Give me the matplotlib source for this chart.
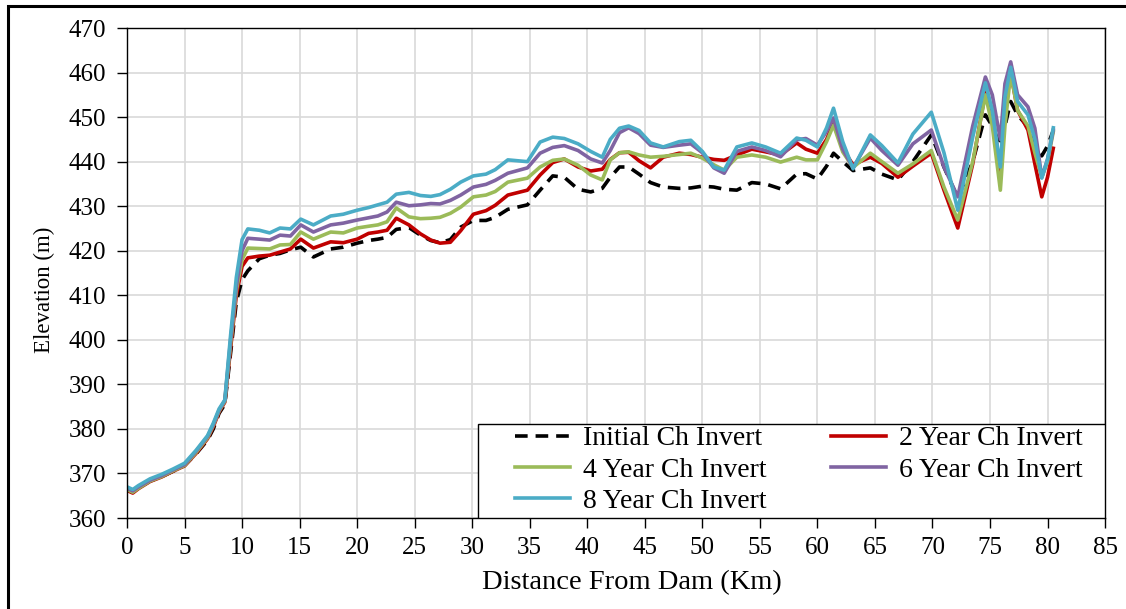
import matplotlib.pyplot as plt
from matplotlib.patches import Rectangle

plt.rcParams['font.family'] = ['Liberation Serif', 'DejaVu Serif']

# distance from dam (km)
dist = [0, 0.5, 1, 2, 3, 4, 5, 6, 7, 7.5, 8, 8.5, 9, 9.5, 10, 10.5, 11.5, 12.4, 13.3, 14.2,
        15.1, 16.2, 17.7, 18.8, 20, 21, 21.8, 22.6, 23.4, 24.5, 25.5, 26.4, 27.2, 28.1, 29,
        30.1, 31.2, 32, 33.1, 34.8, 35.9, 37, 38, 39.2, 40.3, 41.3, 42, 42.8, 43.6, 44.5,
        45.5, 46.6, 48, 49, 50, 51, 51.9, 53, 54.3, 55.5, 56.8, 58.2, 59, 60, 60.8, 61.4,
        62.2, 63.1, 64.6, 65.6, 67, 68.3, 69.9, 71, 72.2, 73.5, 74.6, 75.2, 75.9, 76.3,
        76.8, 77.4, 78.3, 78.9, 79.5, 80.0, 80.5]

initial = [366.6, 365.9, 366.8, 368.3, 369.3, 370.5, 371.8, 374.4, 377.5, 380.0, 383.5, 385.5,
           397, 408.5, 413.5, 415.5, 418.2, 419, 419.4, 420.2, 420.8, 418.6, 420.4, 420.8,
           421.7, 422.3, 422.6, 423, 424.8, 425.2, 423.5, 422.3, 421.8, 422.5, 425.3, 426.8,
           426.8, 427.5, 429.3, 430.3, 433.6, 436.8, 436.5, 433.8, 433.2, 434, 436.5, 438.8,
           438.8, 437.2, 435.3, 434.3, 434, 434.1, 434.5, 434.3, 433.8, 433.6, 435.3, 435,
           433.9, 437.2, 437.3, 436.1, 439, 441.9, 440, 438, 438.6, 437.2, 435.9, 440, 446,
           438.8, 431.8, 440, 450.5, 448, 443.5, 448, 453.5, 450.5, 447.8, 444, 441.3,
           443.5, 447]

yr2 = [366.2, 365.6, 366.6, 368.2, 369.2, 370.5, 371.7, 374.5, 377.8, 380.5, 383.8, 386,
       398, 410, 416.5, 418.4, 418.8, 419, 419.7, 420.4, 422.6, 420.6, 422.0, 421.8, 422.6,
       423.9, 424.2, 424.6, 427.3, 425.8, 423.8, 422.4, 421.7, 421.9, 424.5, 428.2, 429,
       430.2, 432.5, 433.6, 437, 439.8, 440.6, 438.8, 437.9, 438.3, 440.5, 442, 442.1,
       440.2, 438.6, 441, 441.9, 441.6, 441, 440.5, 440.3, 441.5, 442.8, 442.2, 441.5,
       444.2, 442.8, 441.9, 445, 448.7, 442.8, 439.3, 441, 439.6, 436.5, 439, 441.9, 433.6,
       425.1, 439.5, 455.6, 451.5, 437.7, 452, 460, 451.5, 447.1, 439.5, 432.1, 436.5, 443]

yr4 = [366.4, 365.8, 366.7, 368.3, 369.3, 370.6, 371.8, 374.7, 378.0, 380.8, 384.0, 386.2,
       399, 411, 418, 420.6, 420.5, 420.4, 421.3, 421.4, 424.2, 422.6, 424.2, 424, 425.1,
       425.5, 425.8, 426.5, 429.6, 427.6, 427.2, 427.3, 427.5, 428.4, 429.8, 432.1, 432.5,
       433.3, 435.4, 436.3, 438.8, 440.3, 440.6, 439.2, 437, 435.9, 440.4, 442, 442.2,
       441.5, 441, 441.2, 441.6, 441.9, 440.8, 439.3, 438.1, 441, 441.5, 441, 439.9, 441,
       440.4, 440.4, 444.5, 448.2, 442.2, 438.7, 441.9, 440, 437.4, 439.5, 442.5, 434.3,
       426.9, 440, 455, 448, 433.6, 448, 459.8, 451.5, 448, 442, 436.5, 440, 446.7]

yr6 = [366.7, 366.1, 367.0, 368.5, 369.5, 370.8, 372.0, 375.0, 378.3, 381.0, 384.2, 386.4,
       400, 412, 420, 422.8, 422.6, 422.4, 423.5, 423.3, 425.8, 424.2, 425.8, 426.2, 426.9,
       427.4, 427.8, 428.7, 430.9, 430.1, 430.3, 430.6, 430.5, 431.3, 432.5, 434.3, 434.9,
       435.8, 437.4, 438.6, 441.9, 443.2, 443.6, 442.5, 440.6, 439.7, 442.5, 446.5, 447.6,
       446.3, 443.7, 443.2, 443.7, 444, 442, 438.6, 437.4, 442.3, 443.3, 442.5, 441.1,
       444.9, 445.2, 443.7, 446.8, 449.8, 442.8, 438.6, 445.3, 442.5, 439.2, 444, 447.1,
       438.8, 432.1, 448, 459, 455, 445, 457.5, 462.4, 455, 452.3, 447.5, 436.5, 440.5,
       447.1]

yr8 = [367, 366.4, 367.3, 368.8, 369.8, 371, 372.3, 375.2, 378.5, 381.3, 384.5, 386.5,
       401, 414, 422.5, 424.9, 424.6, 424, 425.1, 424.9, 427.1, 425.8, 427.8, 428.2, 429.1,
       429.7, 430.3, 430.9, 432.7, 433.1, 432.4, 432.2, 432.6, 433.8, 435.4, 436.8, 437.2,
       438.2, 440.4, 440, 444.4, 445.5, 445.2, 444, 442.3, 441, 445, 447.5, 448, 447,
       444.2, 443.3, 444.5, 444.8, 442.3, 438.8, 438.1, 443.3, 444.2, 443.3, 441.9, 445.3,
       444.8, 443.3, 447.6, 452, 444.5, 438.4, 446, 443.6, 439.7, 446.2, 451.1, 442,
       429.1, 445.5, 457.7, 451.5, 438.8, 454.5, 461.2, 453.5, 450.5, 445, 436.3, 440.5,
       447.6]

fig = plt.figure(figsize=(11.26, 6.09), dpi=100)
ax = fig.add_axes([0.1128, 0.1494, 0.8686, 0.8046])

# outer frame of the figure
fig.patches.append(Rectangle((8 / 1126, -0.1), 1.2, 1 - 6 / 609 + 0.1,
                             transform=fig.transFigure, fill=False,
                             edgecolor='black', linewidth=2.2))

l0, = ax.plot(dist, initial, color='black', linestyle=(0, (3.5, 2.2)), linewidth=2.6,
              label='Initial Ch Invert')
l2, = ax.plot(dist, yr2, color='#C00000', linewidth=2.6, label='2 Year Ch Invert')
l4, = ax.plot(dist, yr4, color='#9BBB59', linewidth=2.6, label='4 Year Ch Invert')
l6, = ax.plot(dist, yr6, color='#8064A2', linewidth=2.6, label='6 Year Ch Invert')
l8, = ax.plot(dist, yr8, color='#4BACC6', linewidth=2.6, label='8 Year Ch Invert')

ax.set_xlim(0, 85)
ax.set_ylim(360, 470)
ax.set_xticks(range(0, 86, 5))
ax.set_yticks(range(360, 471, 10))
ax.grid(True, color='#d9d9d9', linewidth=1.2)
ax.set_axisbelow(True)

for s in ax.spines.values():
    s.set_color('black')
    s.set_linewidth(1.0)

ax.tick_params(direction='out', length=7, width=1, labelsize=18)
ax.tick_params(axis='x', pad=7)
ax.tick_params(axis='y', pad=8)
ax.set_xlabel('Distance From Dam (Km)', fontsize=20.5)
ax.xaxis.set_label_coords(0.516, -0.107)
ax.set_ylabel('Elevation (m)', fontsize=16.5)
ax.yaxis.set_label_coords(-0.0736, 0.465)

# legend box, drawn separately so the entries sit with wide margins
ax.add_patch(Rectangle((0.359, 0.0), 0.641, 0.192, transform=ax.transAxes,
                       facecolor='white', edgecolor='black', linewidth=1.0,
                       zorder=4.5))

# row-wise legend order: column-major fill with two columns
handles = [l0, l4, l8, l2, l6]
leg = ax.legend(handles=handles, ncol=2, loc='upper left',
                bbox_to_anchor=(0.3967, 0.1878), fontsize=20,
                frameon=False, handlelength=1.98, handletextpad=0.45,
                columnspacing=2.35, labelspacing=0.21, borderpad=0.0, borderaxespad=0.0)
leg.set_zorder(5)

plt.savefig('out.png', dpi=100)
